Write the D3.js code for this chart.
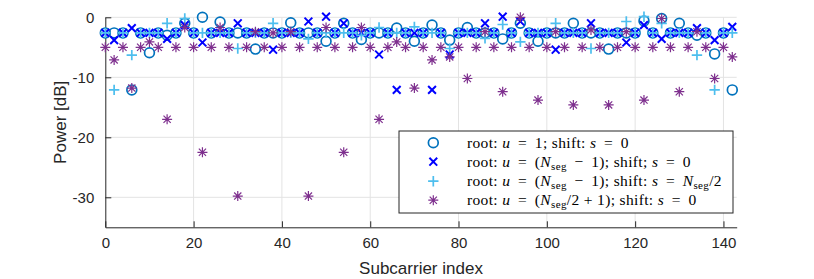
<!DOCTYPE html>
<html><head><meta charset="utf-8">
<script src="https://cdn.jsdelivr.net/npm/d3@7"></script>
<style>body{margin:0;background:#fff}svg{display:block}</style>
</head><body><svg id="c" width="814" height="279"></svg>
<script>
const subcarrier = [0,2,4,6,8,10,12,14,16,18,20,22,24,26,28,30,32,34,36,38,40,42,44,46,48,50,52,54,56,58,60,62,64,66,68,70,
  72,74,76,78,80,82,84,86,88,90,92,94,96,98,100,102,104,106,108,110,112,114,116,118,120,122,124,126,128,130,132,134,136,138,140,142];
const powerU1 = [-2.6,-2.6,-2.6,-12.1,-2.6,-5.9,-2.6,-3.0,-2.6,-1.0,-2.6,0.0,-2.6,-0.8,-2.6,-2.6,-2.6,-5.3,-2.6,-2.6,-2.6,-0.9,-2.6,-2.6,
  -2.6,-4.0,-2.6,-1.0,-2.6,-3.7,-2.6,-2.6,-2.6,-1.8,-2.6,-4.0,-2.6,-1.3,-2.6,-3.8,-2.6,-1.7,-2.6,-2.6,-2.6,-3.6,-2.6,-1.0,
  -2.6,-4.0,-2.6,-2.6,-2.6,-1.0,-2.6,-2.6,-2.6,-5.3,-2.6,-2.6,-2.6,-0.6,-2.6,-0.2,-2.6,-1.0,-2.6,-3.0,-2.6,-6.1,-2.6,-12.1];
const powerUN1 = [-2.6,-3.8,-2.6,-1.8,-2.6,-2.6,-2.6,-3.6,-2.6,-1.3,-2.6,-4.2,-2.6,-2.6,-2.6,-1.0,-2.6,-2.6,-2.6,-5.4,-2.6,-2.6,-2.6,-0.7,
  -2.6,0.1,-2.6,-1.0,-2.6,-2.6,-2.6,-6.2,-2.6,-12.1,-2.6,-2.6,-2.6,-12.1,-2.6,-6.2,-2.6,-2.6,-2.6,-1.0,-2.6,0.1,-2.6,-0.7,
  -2.6,-2.6,-2.6,-5.4,-2.6,-2.6,-2.6,-1.0,-2.6,-2.6,-2.6,-4.2,-2.6,-1.3,-2.6,-3.6,-2.6,-2.6,-2.6,-1.8,-2.6,-3.8,-2.6,-1.6];
const powerUN1Shift = [-2.6,-12.1,-2.6,-6.3,-2.6,-2.6,-2.6,-1.0,-2.6,-0.2,-2.6,-2.6,-2.6,-2.6,-2.6,-5.2,-2.6,-2.6,-2.6,-1.0,-2.6,-2.6,-2.6,-3.6,
  -2.6,-2.6,-2.6,-2.6,-2.6,-3.0,-2.6,-1.7,-2.6,-2.6,-2.6,-1.6,-2.6,-2.6,-2.6,-5.2,-2.6,-2.6,-2.6,-3.5,-2.6,-1.2,-2.6,-4.1,
  -2.6,-2.6,-2.6,-1.0,-2.6,-2.6,-2.6,-5.2,-2.6,-2.6,-2.6,-0.7,-2.6,0.1,-2.6,-1.0,-2.6,-2.6,-2.6,-6.3,-2.6,-12.1,-2.6,-2.6];
const powerUHalf = [-5,-7.1,-5,-11.8,-5,-4.1,-5,-17,-5,-1.7,-5,-22.5,-5,-1.7,-5,-29.8,-5,-2.4,-5,-2.6,-5,-2.4,-5,-29.8,
  -5,-1.7,-5,-22.5,-5,-1.7,-5,-17,-5,-4.1,-5,-11.8,-5,-7.1,-5,-6.6,-5,-10.2,-5,-2.4,-5,-12.4,-5,0.0,
  -5,-13.8,-5,-2.4,-5,-14.6,-5,-2.1,-5,-14.6,-5,-2.4,-5,-13.8,-5,-0.2,-5,-12.4,-5,-2.4,-5,-10.2,-5,-6.6];
const xTicks = [0,20,40,60,80,100,120,140];
const yTicks = [-30,-20,-10,0];

const L = 105.3, R = 736.7, T = 17.3, B = 227.3;
const x = d3.scaleLinear().domain([0,143]).range([L,R]);
const y = d3.scaleLinear().domain([-35,0]).range([B,T]);
const svg = d3.select('#c');
const fontSans = "'Liberation Sans', Arial, Helvetica, sans-serif";

// grid
const g = svg.append('g');
g.selectAll('.gx').data(xTicks.filter(d=>d>0)).join('line')
  .attr('x1',d=>x(d)).attr('x2',d=>x(d)).attr('y1',T).attr('y2',B)
  .attr('stroke','#e3e3e3').attr('stroke-width',1);
g.selectAll('.gy').data(yTicks).join('line')
  .attr('x1',L).attr('x2',R).attr('y1',d=>y(d)).attr('y2',d=>y(d))
  .attr('stroke','#e3e3e3').attr('stroke-width',1);

// axes
const ax = svg.append('g').attr('transform',`translate(0,${B})`)
  .call(d3.axisBottom(x).tickValues(xTicks).tickSizeInner(-6).tickSizeOuter(0).tickPadding(10));
const ay = svg.append('g').attr('transform',`translate(${L},0)`)
  .call(d3.axisLeft(y).tickValues(yTicks).tickSizeInner(-6).tickSizeOuter(0).tickPadding(11));
[ax,ay].forEach(a=>{
  a.select('.domain').attr('stroke','#262626').attr('stroke-width',1);
  a.selectAll('.tick line').attr('stroke','#262626');
  a.selectAll('.tick text').attr('fill','#262626').style('font-family',fontSans).style('font-size','15px');
});
ay.selectAll('.tick text').text(d=>String(d).replace('\u2212','-'));

svg.append('text').attr('x',(L+R)/2).attr('y',274).attr('text-anchor','middle')
  .style('font-family',fontSans).style('font-size','17px').attr('fill','#262626').text('Subcarrier index');
svg.append('text').attr('transform',`translate(66,${(T+B)/2}) rotate(-90)`).attr('text-anchor','middle')
  .style('font-family',fontSans).style('font-size','17px').attr('fill','#262626').text('Power [dB]');

// markers
const shapes = {
  circle: 'M4.9,0A4.9,4.9,0,1,1,-4.9,0A4.9,4.9,0,1,1,4.9,0Z',
  cross: 'M-3.9,-3.9L3.9,3.9M-3.9,3.9L3.9,-3.9',
  plus: 'M-5.2,0H5.2M0,-5.2V5.2',
  star: 'M-5,0H5M0,-5V5M-3.6,-3.6L3.6,3.6M-3.6,3.6L3.6,-3.6'
};
const series = [
  {vals: powerU1, shape:'circle', color:'#0072BD', w:1.7},
  {vals: powerUN1, shape:'cross', color:'#0000FF', w:2},
  {vals: powerUN1Shift, shape:'plus', color:'#4DBEEE', w:1.7},
  {vals: powerUHalf, shape:'star', color:'#7E2F8E', w:1.2}
];
series.forEach(s=>{
  svg.append('g').selectAll('path').data(subcarrier.map((c,i)=>[c,s.vals[i]])).join('path')
    .attr('d',shapes[s.shape]).attr('transform',d=>`translate(${x(d[0])},${y(d[1])})`)
    .attr('fill','none').attr('stroke',s.color).attr('stroke-width',s.w);
});

// legend
const lg = svg.append('g');
lg.append('rect').attr('x',399).attr('y',131).attr('width',334).attr('height',82)
  .attr('fill','#fff').attr('stroke','#262626').attr('stroke-width',1);
const serif = "'Liberation Serif','Times New Roman',serif";
const th = '\u2009';
const rows = [
  [['root: ',''],['u','i'],[th+' = '+th+'1; shift: ',''],['s','i'],[th+' = '+th+'0','']],
  [['root: ',''],['u','i'],[th+' = '+th+'(',''],['N','i'],['seg','sub'],[th+' \u2212 '+th+'1); shift; ',''],['s','i'],[th+' = '+th+'0','']],
  [['root: ',''],['u','i'],[th+' = '+th+'(',''],['N','i'],['seg','sub'],[th+' \u2212 '+th+'1); shift: ',''],['s','i'],[th+' = '+th,''],['N','i'],['seg','sub'],['/2','']],
  [['root: ',''],['u','i'],[th+' = '+th+'(',''],['N','i'],['seg','sub'],['/2 + 1); shift: ',''],['s','i'],[th+' = '+th+'0','']]
];
const rowY = [142.7,161.7,181.2,200.2];
rows.forEach((r,i)=>{
  const s = series[i];
  lg.append('path').attr('d',shapes[s.shape]).attr('transform',`translate(433.3,${rowY[i]})`)
    .attr('fill','none').attr('stroke',s.color).attr('stroke-width',s.w);
  const t = lg.append('text').attr('x',467).attr('y',rowY[i]+5).style('font-family',serif).style('font-size','15.5px')
    .attr('fill','#000').attr('xml:space','preserve').style('white-space','pre').style('letter-spacing','0.35px');
  let subbed = false;
  r.forEach(([txt,st])=>{
    const sp = t.append('tspan').text(txt);
    if(st==='i') sp.style('font-style','italic');
    if(st==='sub'){ sp.attr('dy',3).style('font-size','11px'); subbed=true; }
    else if(subbed){ sp.attr('dy',-3); subbed=false; }
  });
});
</script></body></html>
